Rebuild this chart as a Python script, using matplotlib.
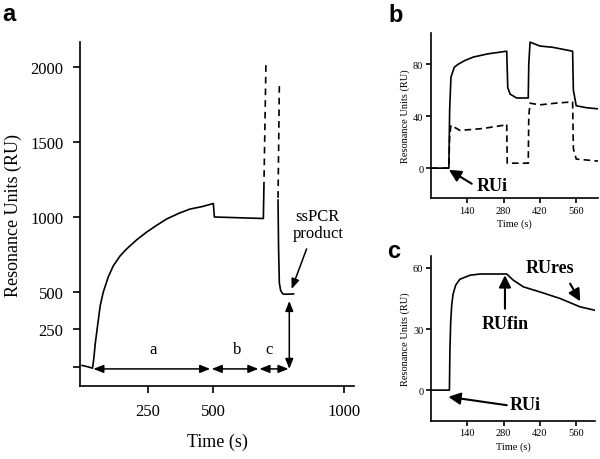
import matplotlib
matplotlib.use('Agg')
import matplotlib.pyplot as plt

plt.rcParams['font.family'] = 'Liberation Serif'

# panel a - ssPCR product binding sensorgram
a_time = [0, 20, 40, 45, 50, 56, 69, 81, 100, 119, 145, 170, 210, 247, 285, 323, 370, 412, 460, 501, 505, 600, 692, 694]
a_ru = [10, 2, -8, 60, 150, 233, 407, 500, 600, 674, 740, 787, 850, 900, 945, 987, 1025, 1053, 1070, 1090, 1000, 995, 990, 1190]
a_spike1_time = [694, 702]
a_spike1_ru = [1190, 2033]
a_spike2_time = [753, 748]
a_spike2_ru = [1873, 1113]
a_tail_time = [748, 750, 753, 758, 766, 780, 807]
a_tail_ru = [1113, 800, 560, 510, 487, 485, 487]

# panel b
b_time = [0, 69, 72, 77, 90, 105, 130, 163, 220, 292, 296, 305, 330, 375, 377, 382, 420, 470, 546, 549, 560, 600, 645]
b_solid = [0, 0, 45, 70, 77.7, 80, 82.8, 85.5, 88, 90, 62, 57, 54, 54, 80, 97, 94, 93, 90, 60, 48, 46.5, 45.6]
b_dash_time = [0, 69, 72, 77, 112, 200, 280, 292, 294, 375, 377, 382, 420, 480, 546, 549, 560, 645]
b_dash = [0, 0, 25, 33, 29, 30.5, 33, 34, 3.8, 3.8, 40, 50, 48.7, 50, 51, 15, 7, 5.4]

# panel c
c_time = [0, 71, 73, 76, 80, 85, 95, 111, 150, 189, 250, 292, 317, 356, 420, 497, 574, 632]
c_ru = [0, 0, 20, 33.5, 42, 47, 51.5, 54.4, 56.4, 57, 57, 57, 54, 50.7, 48.2, 45, 40.9, 39.2]

lw = 1.2

fig = plt.figure(figsize=(6, 4.6), dpi=100)
axa = fig.add_axes([0.1333, 0.1587, 0.4567, 0.7478])
axb = fig.add_axes([0.7183, 0.5674, 0.2784, 0.3586])
axc = fig.add_axes([0.7183, 0.0833, 0.2734, 0.3587])

for ax in (axa, axb, axc):
    ax.spines['top'].set_visible(False)
    ax.spines['right'].set_visible(False)
    ax.spines['left'].set_linewidth(1.2)
    ax.spines['bottom'].set_linewidth(1.2)
    ax.tick_params(direction='out', length=5, width=1.2)

# ---- a ----
axa.plot(a_time, a_ru, color='k', lw=lw)
axa.plot(a_spike1_time, a_spike1_ru, color='k', lw=lw, ls=(0, (4, 3)))
axa.plot(a_spike2_time, a_spike2_ru, color='k', lw=lw, ls=(0, (4, 3)))
axa.plot(a_tail_time, a_tail_ru, color='k', lw=lw)
axa.set_xlim(-8, 1038)
axa.set_ylim(-127, 2167)
axa.set_xticks([250, 500, 1000])
axa.set_yticks([0, 250, 500, 1000, 1500, 2000])
axa.set_yticklabels(['', '250', '500', '1000', '1500', '2000'])
axa.tick_params(labelsize=12, pad=7)
axa.set_xlabel('Time (s)', fontsize=13, labelpad=10)
axa.set_ylabel('Resonance Units (RU)', fontsize=13, labelpad=6)

dbl = dict(arrowstyle='<|-|>,head_length=0.5,head_width=0.2', color='k', lw=1.1,
           shrinkA=0, shrinkB=0, mutation_scale=12)
for t0, t1 in [(43, 489), (495, 673), (677, 788)]:
    axa.annotate('', xy=(t1, -13), xytext=(t0, -13), arrowprops=dbl)
axa.annotate('', xy=(791, 440), xytext=(791, -13), arrowprops=dbl)
for lab, t in [('a', 270), ('b', 593), ('c', 714)]:
    axa.text(t, 120, lab, fontsize=12, ha='center', va='center')
axa.text(900, 950, 'ssPCR\nproduct', fontsize=12, ha='center', va='center', linespacing=1.1)
axa.annotate('', xy=(800, 520), xytext=(857, 787),
             arrowprops=dict(arrowstyle='-|>,head_length=0.5,head_width=0.2', color='k',
                             lw=1.1, shrinkA=0, shrinkB=0, mutation_scale=12))

# ---- b ----
axb.plot(b_time, b_solid, color='k', lw=lw)
axb.plot(b_dash_time, b_dash, color='k', lw=lw, ls=(0, (4, 2.5)))
axb.set_xlim(0, 644)
axb.set_ylim(-23, 104)
axb.set_xticks([140, 280, 420, 560])
axb.set_yticks([0, 40, 80])
axb.tick_params(labelsize=7.5, length=3.5, pad=2)
axb.set_xlabel('Time (s)', fontsize=7.5, labelpad=3)
axb.set_ylabel('Resonance Units (RU)', fontsize=7.5, labelpad=2)
axb.annotate('', xy=(69, -1.3), xytext=(157, -12),
             arrowprops=dict(arrowstyle='-|>,head_length=0.6,head_width=0.3', color='k',
                             lw=1.5, shrinkA=0, shrinkB=0, mutation_scale=12))
axb.text(176, -13.3, 'RUi', fontsize=13, fontweight='bold', ha='left', va='center')

# ---- c ----
axc.plot(c_time, c_ru, color='k', lw=lw)
axc.set_xlim(0, 632)
axc.set_ylim(-15, 66)
axc.set_xticks([140, 280, 420, 560])
axc.set_yticks([0, 30, 60])
axc.tick_params(labelsize=7.5, length=3.5, pad=2)
axc.set_xlabel('Time (s)', fontsize=7.5, labelpad=3)
axc.set_ylabel('Resonance Units (RU)', fontsize=7.5, labelpad=2)
arr = dict(arrowstyle='-|>,head_length=0.6,head_width=0.3', color='k',
           lw=1.5, shrinkA=0, shrinkB=0, mutation_scale=12)
axc.annotate('', xy=(285, 56.4), xytext=(285, 40), arrowprops=arr)
axc.text(285, 32.7, 'RUfin', fontsize=13, fontweight='bold', ha='center', va='center')
axc.annotate('', xy=(575, 43.6), xytext=(536, 52.3), arrowprops=arr)
axc.text(459, 60, 'RUres', fontsize=13, fontweight='bold', ha='center', va='center')
axc.annotate('', xy=(67, -3.3), xytext=(292, -7.4), arrowprops=arr)
axc.text(362, -6.9, 'RUi', fontsize=13, fontweight='bold', ha='center', va='center')

# panel letters
for lab, x, y in [('a', 0.004, 0.968), ('b', 0.648, 0.966), ('c', 0.645, 0.453)]:
    fig.text(x, y, lab, fontsize=17, fontweight='bold', family='Liberation Sans', va='center')

fig.savefig('out.png', dpi=100)
